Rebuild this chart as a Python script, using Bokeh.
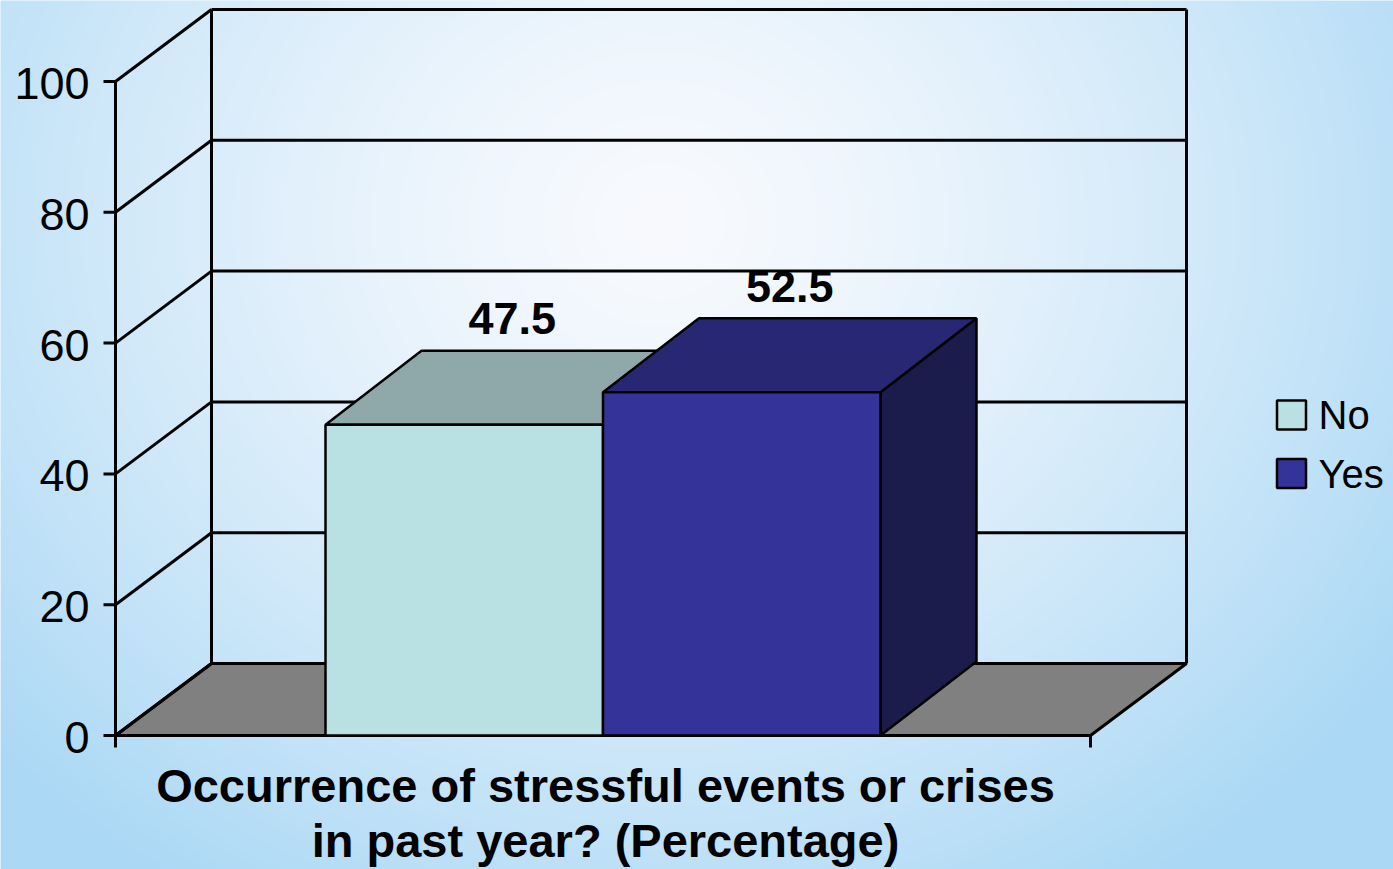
import numpy as np
from bokeh.plotting import figure
from bokeh.models import Range1d
from bokeh.core.properties import value
from bokeh.embed import file_html
from bokeh.resources import INLINE

# ---------------- data ----------------
categories = ["No", "Yes"]
values = [47.5, 52.5]
value_labels = ["47.5", "52.5"]
y_ticks = [0, 20, 40, 60, 80, 100]
y_tick_labels = ["0", "20", "40", "60", "80", "100"]
x_title_lines = ["Occurrence of stressful events or crises",
                 "in past year? (Percentage)"]

# ---------------- styles ----------------
front_colors = ["#b9e0e2", "#333399"]
top_colors = ["#8fa9ab", "#272774"]
side_colors = ["#7f9fa1", "#1c1c4c"]
floor_color = "#808080"
FONT = value("Liberation Sans")

# ---------------- layout ----------------
W, H = 1393, 869
S = 6.54            # pixels per value unit (vertical)
PAGE = 0
ORIG_Y = 735        # screen y of value 0 on the front plane
AX0, AX1 = 115, 1090  # front floor edge (screen x)
WDX, WDY = 96, 72 / S  # wall depth offset
BDX, BDY = 96, 74 / S  # bar depth offset
GAP = 210
BW = (AX1 - AX0 - 2 * GAP) / len(categories)
TXT_SHIFT = 15      # baseline correction (px)


def u(px):
    return px / S


y_start = (ORIG_Y - (PAGE + H)) / S
y_end = (ORIG_Y - PAGE) / S

p = figure(width=W, height=H, output_backend="svg", toolbar_location=None,
           x_range=Range1d(PAGE, PAGE + W), y_range=Range1d(y_start, y_end),
           x_axis_type=None, y_axis_type=None, min_border=0,
           outline_line_color=None)
p.xgrid.visible = False
p.ygrid.visible = False
p.background_fill_color = "#dceffb"
p.border_fill_color = "#dceffb"

# ---------------- background gradient ----------------
gw, gh = W // 2 + 1, H // 2 + 1
cols = PAGE + (np.arange(gw) + 0.5) * 2
rows = PAGE + H - (np.arange(gh) + 0.5) * 2
X, Y = np.meshgrid(cols, rows)
t = np.sqrt(((X - 660) / 900) ** 2 + ((Y - 220) / 800) ** 2)
t = np.clip(t, 0, 1) ** 1.4
c0 = np.array([248, 250, 254])
c1 = np.array([170, 216, 245])
img = np.empty((gh, gw), dtype=np.uint32)
view = img.view(dtype=np.uint8).reshape((gh, gw, 4))
for k in range(3):
    view[:, :, k] = (c0[k] + (c1[k] - c0[k]) * t).astype(np.uint8)
view[:, :, 3] = 255
p.image_rgba(image=[img], x=PAGE, y=y_start, dw=W, dh=y_end - y_start)

# ---------------- walls & gridlines ----------------
LW = 3
# floor
p.patch([AX0, AX1, AX1 + WDX, AX0 + WDX], [0, 0, WDY, WDY],
        fill_color=floor_color, line_color="black", line_width=LW)
# side-wall diagonals and back-wall horizontals
p.segment(x0=[AX0] * len(y_ticks), y0=y_ticks,
          x1=[AX0 + WDX] * len(y_ticks), y1=[v + WDY for v in y_ticks],
          line_color="black", line_width=LW)
p.segment(x0=[AX0 + WDX] * len(y_ticks), y0=[v + WDY for v in y_ticks],
          x1=[AX1 + WDX] * len(y_ticks), y1=[v + WDY for v in y_ticks],
          line_color="black", line_width=LW)
# back-wall verticals
p.segment(x0=[AX0 + WDX, AX1 + WDX], y0=[WDY, WDY],
          x1=[AX0 + WDX, AX1 + WDX], y1=[max(y_ticks) + WDY] * 2,
          line_color="black", line_width=LW)

# ---------------- axes ----------------
p.segment(x0=[AX0], y0=[0], x1=[AX0], y1=[max(y_ticks)],
          line_color="black", line_width=LW)
p.segment(x0=[AX0 - 12] * len(y_ticks), y0=y_ticks,
          x1=[AX0] * len(y_ticks), y1=y_ticks,
          line_color="black", line_width=LW)
p.segment(x0=[AX0, AX1], y0=[0, 0], x1=[AX0, AX1], y1=[-u(12)] * 2,
          line_color="black", line_width=LW)
p.text(x=[89] * len(y_ticks), y=[v - u(17 - TXT_SHIFT) for v in y_ticks],
       text=y_tick_labels,
       text_font=FONT, text_font_size="45px", text_color="black",
       text_align="right", text_baseline="alphabetic")

# ---------------- bars ----------------
for i, (cat, v) in enumerate(zip(categories, values)):
    x0 = AX0 + GAP + i * BW
    x1 = x0 + BW
    p.patch([x1, x1, x1 + BDX, x1 + BDX], [0, v, v + BDY, BDY],
            fill_color=side_colors[i], line_color="black", line_width=2.5)
    p.patch([x0, x1, x1 + BDX, x0 + BDX], [v, v, v + BDY, v + BDY],
            fill_color=top_colors[i], line_color="black", line_width=2.5)
    p.quad(left=[x0], right=[x1], bottom=[0], top=[v],
           fill_color=front_colors[i], line_color="black", line_width=2.5)

# value labels
p.text(x=[AX0 + GAP + i * BW + BW / 2 + BDX / 2 for i in range(len(values))],
       y=[v + u(91 + TXT_SHIFT) for v in values], text=value_labels,
       text_font=FONT, text_font_style="bold", text_font_size="45px",
       text_color="black", text_align="center", text_baseline="alphabetic")

# ---------------- axis title ----------------
p.text(x=[605] * len(x_title_lines),
       y=[u(ORIG_Y - 800 + TXT_SHIFT), u(ORIG_Y - 855 + TXT_SHIFT)],
       text=x_title_lines,
       text_font=FONT, text_font_style="bold", text_font_size="47px",
       text_color="black", text_align="center", text_baseline="alphabetic")

# ---------------- legend ----------------
LEG_X, LEG_Y0, LEG_STEP = 1291, 414.5, 58.5
leg_y = [u(ORIG_Y - (LEG_Y0 + i * LEG_STEP)) for i in range(len(categories))]
p.scatter(x=[LEG_X] * len(categories), y=leg_y, marker="square", size=29,
          fill_color=front_colors, line_color="black", line_width=2.5)
p.text(x=[1318] * len(categories), y=[y - u(16 - 16) for y in leg_y],
       text=categories,
       text_font=FONT, text_font_size="40px", text_color="black",
       text_align="left", text_baseline="alphabetic")

open("out.html", "w").write(file_html(p, INLINE))
